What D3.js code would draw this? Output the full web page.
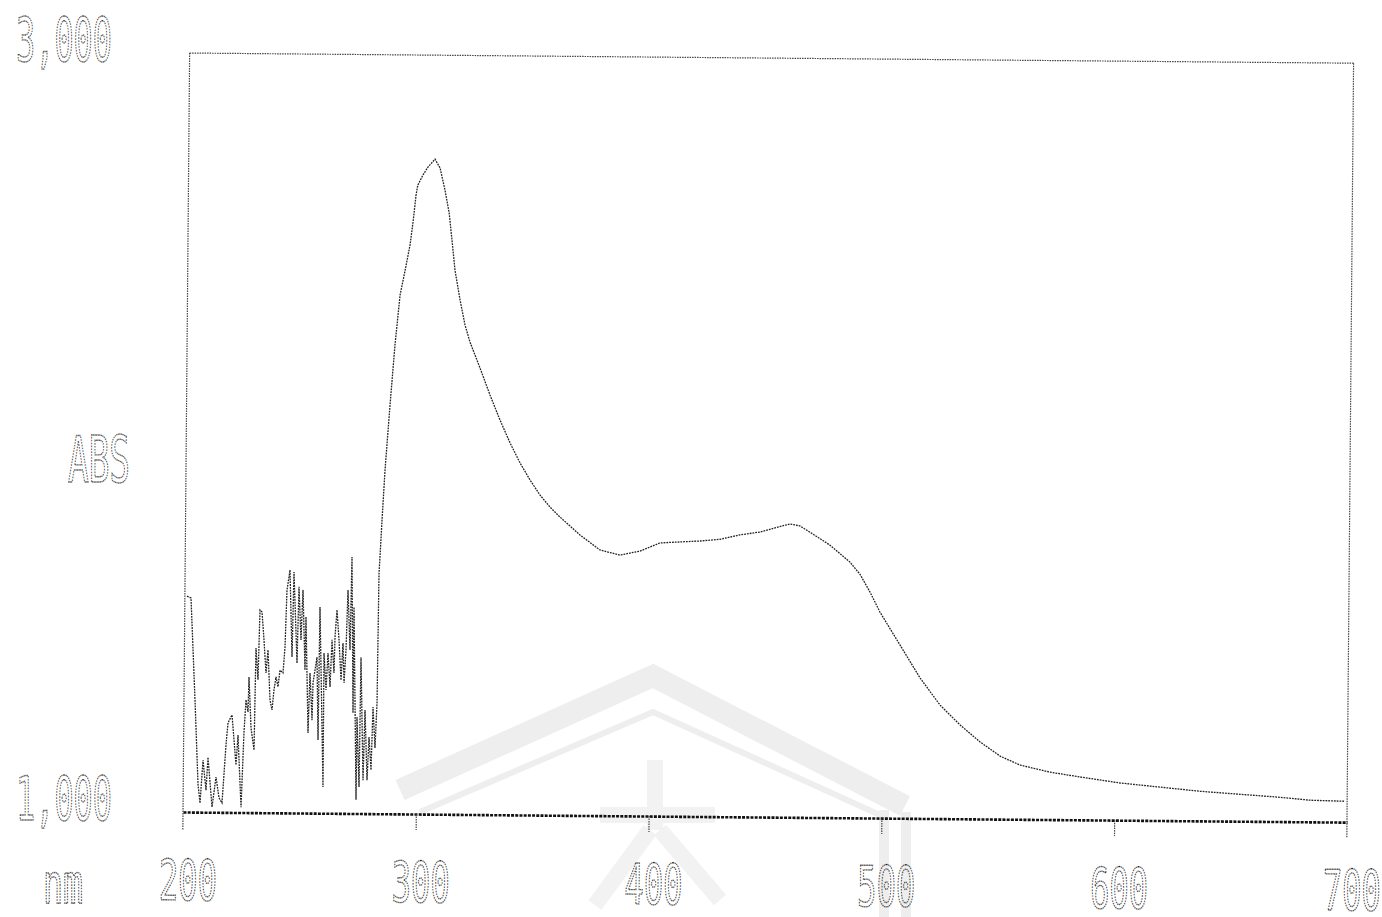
<!DOCTYPE html>
<html><head><meta charset="utf-8">
<script src="https://cdn.jsdelivr.net/npm/d3@7"></script>
<style>body{margin:0;background:#fff}svg{display:block}</style>
</head><body>
<svg id="c" width="1382" height="917"></svg>
<script>
const wavelength = [200.91,202.64,204.74,206.34,207.27,208.40,209.80,210.53,212.44,214.05,215.41,216.72,218.22,219.00,220.69,222.59,223.34,224.90,225.90,226.65,227.55,227.85,228.90,230.27,230.74,231.72,232.32,233.19,234.15,235.13,235.91,236.95,237.85,238.63,239.45,240.34,241.13,242.44,243.20,243.84,245.06,246.24,246.78,248.41,248.99,250.04,250.72,251.87,252.10,253.40,254.03,255.07,255.36,256.98,257.72,258.08,260.04,259.97,260.97,261.69,262.68,263.36,264.34,264.64,265.40,266.37,267.38,268.10,268.68,269.41,270.05,271.13,271.64,272.65,272.69,274.27,274.39,275.51,275.88,277.20,277.80,278.92,279.62,280.60,281.22,282.23,282.93,283.30,
283.6,284.4,285.5,287.4,289.3,291.3,293.4,295.4,296.6,297.8,298.5,300.7,302.8,305.8,308.0,310.2,312.1,313.4,314.8,317.1,319.3,321.5,325.9,330.3,334.7,339.1,343.5,347.8,352.2,356.5,360.8,369.5,378.1,386.7,395.3,403.9,412.5,421.1,429.7,438.2,446.8,453.2,459.6,463.9,468.2,476.9,485.5,489.9,494.3,498.6,507.4,516.1,524.8,533.5,542.1,550.8,559.3,572.2,585.1,602.4,619.6,636.8,653.9,671.1,684.0,699.0];
const absorbance = [1.569,1.564,1.295,1.074,1.024,1.137,1.058,1.145,1.014,1.093,1.038,1.025,1.178,1.236,1.257,1.125,1.204,1.014,1.212,1.297,1.265,1.357,1.223,1.165,1.434,1.350,1.534,1.529,1.455,1.368,1.429,1.297,1.271,1.324,1.358,1.332,1.376,1.369,1.437,1.587,1.640,1.411,1.635,1.395,1.596,1.456,1.588,1.377,1.517,1.211,1.369,1.245,1.343,1.411,1.193,1.543,1.069,1.422,1.325,1.422,1.333,1.457,1.370,1.465,1.536,1.457,1.351,1.449,1.344,1.431,1.589,1.431,1.676,1.265,1.544,1.036,1.254,1.070,1.412,1.088,1.273,1.088,1.202,1.115,1.281,1.173,1.292,1.634,
1.669,1.774,1.906,2.077,2.235,2.367,2.433,2.499,2.560,2.631,2.657,2.684,2.705,2.726,2.703,2.645,2.584,2.513,2.434,2.355,2.290,2.245,2.177,2.106,2.040,1.980,1.927,1.883,1.843,1.812,1.786,1.739,1.700,1.687,1.698,1.720,1.723,1.726,1.731,1.743,1.751,1.762,1.773,1.768,1.752,1.718,1.674,1.642,1.595,1.543,1.456,1.370,1.299,1.247,1.203,1.166,1.143,1.125,1.113,1.098,1.088,1.078,1.071,1.064,1.057,1.055];
const xTicks = [200,300,400,500,600,700];
const xTickLabels = ["200","300","400","500","600","700"];
const yTicks = [1,3];
const yTickLabels = ["1,000","3,000"];
const xUnit = "nm";
const yUnit = "ABS";

const svg = d3.select("#c");
const x = d3.scaleLinear().domain([200,700]).range([183,1347]);
const y = d3.scaleLinear().domain([1,3]).range([812,53]);

const dotText = sel => sel
  .attr("font-family","DejaVu Sans Mono, monospace")
  .attr("fill","none").attr("stroke","#1e1e1e").attr("stroke-width",1.4)
  .attr("stroke-dasharray","1.6 1.3").attr("lengthAdjust","spacingAndGlyphs");

// faint scanned watermark (roof outline)
const wm = svg.append("g").attr("stroke","#eeeeee").attr("fill","none");
wm.append("path").attr("d","M400,790 L653,676 L905,806").attr("stroke-width",22);
wm.append("path").attr("d","M420,812 L653,712 L880,815").attr("stroke-width",6);
wm.append("path").attr("d","M884,810 L884,917 M906,812 L906,917").attr("stroke-width",10);
wm.append("path").attr("d","M655,760 L655,830 M600,815 L715,815 M650,830 L595,905 M660,830 L720,900").attr("stroke-width",16).attr("stroke","#f2f2f2");

// rotated (scanned) plot group
const g = svg.append("g").attr("transform","rotate(0.5,183,812)");

const thin = sel => sel.attr("stroke","#444").attr("stroke-width",1.2).attr("stroke-dasharray","1.5 1");
g.append("line").attr("x1",x(200)).attr("x2",x(700)).attr("y1",y(3)).attr("y2",y(3)).call(thin);
g.append("line").attr("x1",x(700)).attr("x2",x(700)).attr("y1",y(3)).attr("y2",y(1)+16).call(thin);
g.append("line").attr("x1",x(200)).attr("x2",x(200)).attr("y1",y(3)).attr("y2",y(1)+18).call(thin);

// x axis
const ax = g.append("g").attr("transform",`translate(0,${y(1)})`)
  .call(d3.axisBottom(x).tickValues(xTicks).tickSize(16).tickSizeOuter(0)
    .tickFormat((d,i)=>xTickLabels[i]));
ax.select(".domain").attr("stroke","#111").attr("stroke-width",2.6).attr("stroke-dasharray","3 1.2");
ax.selectAll(".tick line").call(thin).filter(d=>d===200||d===700).remove();
ax.selectAll(".tick text").attr("y",88).attr("dy",0).attr("dx",5)
  .attr("font-size",56).attr("textLength",58).call(dotText);

// spectrum curve
const pts = wavelength.map((w,i)=>[w,absorbance[i]]);
g.append("path").datum(pts)
  .attr("d", d3.line().x(d=>x(d[0])).y(d=>y(d[1])))
  .attr("fill","none").attr("stroke","#222").attr("stroke-width",1.3)
  .attr("stroke-dasharray","1.8 1");

// y labels
svg.selectAll("text.ylab").data(yTicks).join("text").attr("class","ylab")
  .attr("x",112).attr("y",d=>y(d)+8).attr("text-anchor","end")
  .attr("font-size",60).attr("textLength",96).call(dotText)
  .text((d,i)=>yTickLabels[i]);

svg.append("text").attr("x",99).attr("y",482).attr("text-anchor","middle")
  .attr("font-size",64).attr("textLength",62).call(dotText).text(yUnit);
svg.append("text").attr("x",63).attr("y",903).attr("text-anchor","middle")
  .attr("font-size",56).attr("textLength",40).call(dotText).text(xUnit);
</script>
</body></html>
